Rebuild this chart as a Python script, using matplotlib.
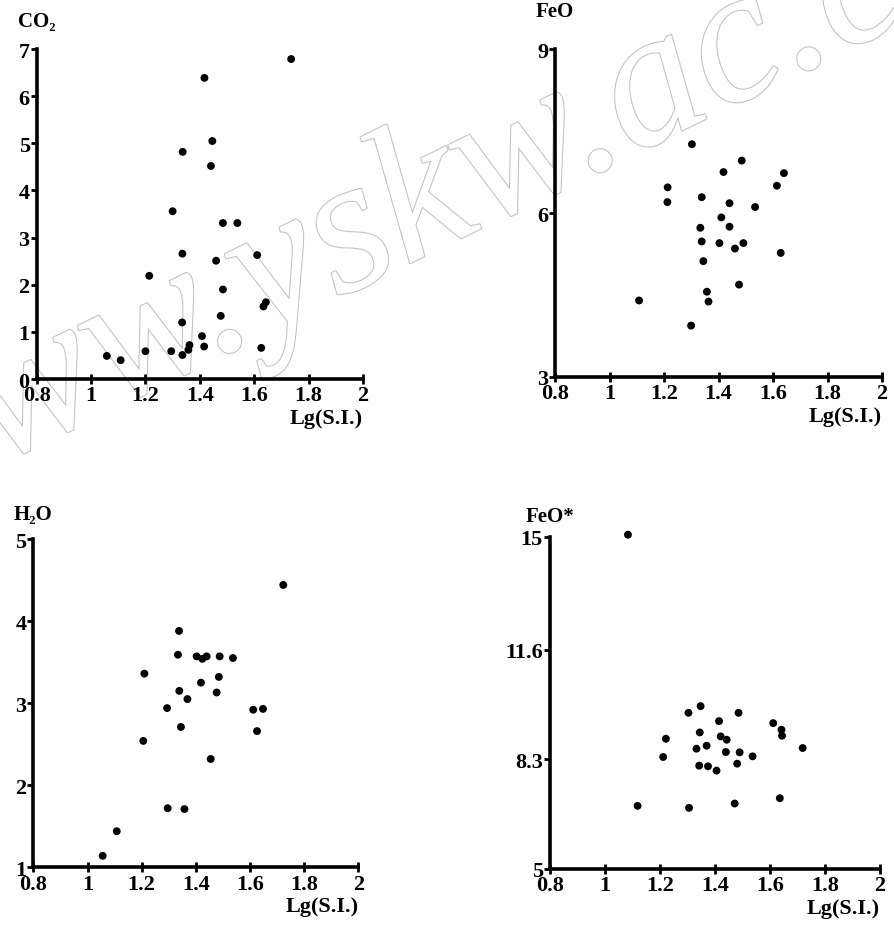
import matplotlib
matplotlib.use("Agg")
import matplotlib.pyplot as plt
import matplotlib.patheffects as pe

# 数据
co2_x = [1.736, 1.417, 1.446, 1.337, 1.441, 1.300, 1.485, 1.538, 1.336, 1.611,
         1.460, 1.214, 1.485, 1.643, 1.634, 1.477, 1.335, 1.408, 1.362, 1.358,
         1.416, 1.626, 1.295, 1.200, 1.336, 1.058, 1.109]
co2_y = [6.79, 6.39, 5.05, 4.82, 4.52, 3.56, 3.31, 3.31, 2.66, 2.63,
         2.51, 2.19, 1.90, 1.63, 1.54, 1.34, 1.20, 0.91, 0.72, 0.62,
         0.69, 0.66, 0.59, 0.59, 0.51, 0.49, 0.40]

feo_x = [1.302, 1.485, 1.418, 1.640, 1.614, 1.213, 1.212, 1.338, 1.440, 1.534,
         1.410, 1.333, 1.440, 1.338, 1.403, 1.491, 1.460, 1.628, 1.344, 1.475,
         1.108, 1.357, 1.363, 1.299]
feo_y = [7.26, 6.96, 6.75, 6.73, 6.50, 6.47, 6.20, 6.29, 6.18, 6.11,
         5.92, 5.73, 5.75, 5.48, 5.45, 5.45, 5.35, 5.27, 5.12, 4.69,
         4.40, 4.56, 4.38, 3.94]

h2o_x = [1.723, 1.338, 1.334, 1.403, 1.424, 1.440, 1.488, 1.537, 1.210, 1.485,
         1.419, 1.339, 1.477, 1.369, 1.294, 1.612, 1.648, 1.345, 1.626, 1.206,
         1.455, 1.296, 1.358, 1.108, 1.056]
h2o_y = [4.44, 3.88, 3.59, 3.57, 3.54, 3.57, 3.57, 3.55, 3.36, 3.32,
         3.25, 3.15, 3.13, 3.05, 2.94, 2.92, 2.93, 2.71, 2.66, 2.54,
         2.32, 1.72, 1.71, 1.44, 1.14]

feot_x = [1.084, 1.348, 1.304, 1.486, 1.415, 1.612, 1.642, 1.644, 1.345, 1.222,
          1.421, 1.443, 1.370, 1.333, 1.719, 1.440, 1.490, 1.212, 1.537, 1.481,
          1.343, 1.375, 1.406, 1.636, 1.119, 1.472, 1.306]
feot_y = [15.06, 9.90, 9.70, 9.70, 9.45, 9.39, 9.19, 9.01, 9.11, 8.92,
          8.99, 8.89, 8.71, 8.62, 8.64, 8.52, 8.51, 8.37, 8.39, 8.17,
          8.11, 8.09, 7.96, 7.13, 6.90, 6.97, 6.84]

x_ticks = [0.8, 1, 1.2, 1.4, 1.6, 1.8, 2]
x_tick_labels = ["0.8", "1", "1.2", "1.4", "1.6", "1.8", "2"]

serif = ["Liberation Serif", "DejaVu Serif"]
plt.rcParams["font.family"] = serif
plt.rcParams["font.weight"] = "bold"

fig = plt.figure(figsize=(8.94, 9.28), dpi=100)

# 水印
fig.text(0.494, 0.732, "www.yskw.ac.cn", fontsize=140, rotation=26,
         rotation_mode="anchor", ha="center", va="baseline",
         color="white", family=serif, style="italic",
         fontweight="normal", zorder=-1,
         path_effects=[pe.withStroke(linewidth=1.6, foreground="#c4c4c4")])


def panel(rect, xs, ys, ylim, yticks, yticklabels, ylabel, label_off):
    ax = fig.add_axes(rect)
    ax.set_facecolor("none")
    ax.scatter(xs, ys, s=32, c="black", edgecolors="none", clip_on=False, zorder=3)
    ax.set_xlim(0.8, 2)
    ax.set_ylim(*ylim)
    for s in ["top", "right"]:
        ax.spines[s].set_visible(False)
    for s in ["left", "bottom"]:
        ax.spines[s].set_linewidth(2.6)
    ax.set_xticks(x_ticks)
    ax.set_xticklabels(x_tick_labels)
    ax.set_yticks(yticks)
    ax.set_yticklabels(yticklabels)
    ax.tick_params(axis="both", labelsize=16, width=2, length=4, pad=1)
    ax.tick_params(axis="x", direction="inout", length=7)
    ax.set_xlabel("Lg(S.I.)", loc="right", fontsize=16, fontweight="bold", labelpad=2)
    ax.annotate(ylabel, xy=(0, 1), xycoords="axes fraction", xytext=(0, label_off),
                textcoords="offset points", ha="center", va="bottom",
                fontsize=15, fontweight="bold")
    return ax


panel([0.041, 0.5905, 0.365, 0.3555], co2_x, co2_y, (0, 7),
      range(0, 8), [str(v) for v in range(0, 8)], "CO₂", 13)
panel([0.621, 0.5927, 0.3656, 0.3533], feo_x, feo_y, (3, 9),
      [3, 6, 9], ["3", "6", "9"], "FeO", 20)
panel([0.0373, 0.0643, 0.3635, 0.3538], h2o_x, h2o_y, (1, 5),
      [1, 2, 3, 4, 5], ["1", "2", "3", "4", "5"], "H₂O", 11)
panel([0.615, 0.0625, 0.3693, 0.3581], feot_x, feot_y, (5, 15),
      [5, 8.3, 11.6, 15], ["5", "8.3", "11.6", "15"], "FeO*", 8)

fig.savefig("out.png", dpi=100)
